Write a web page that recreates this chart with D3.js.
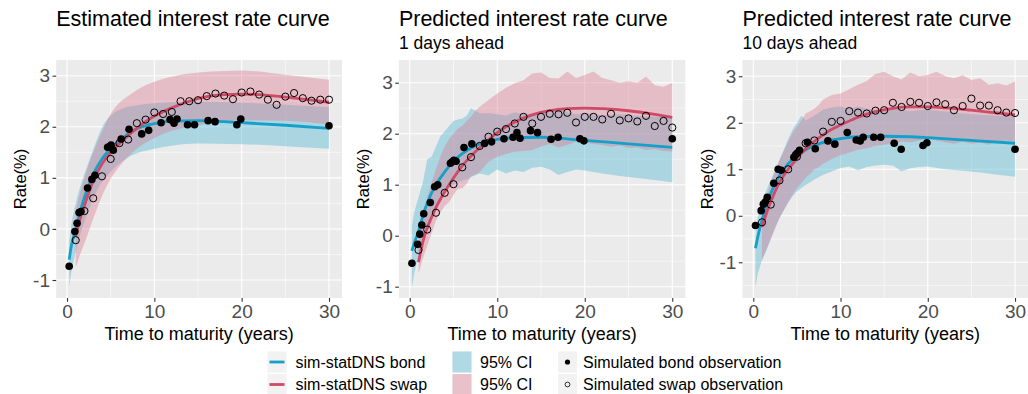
<!DOCTYPE html>
<html>
<head>
<meta charset="utf-8">
<script src="https://cdn.jsdelivr.net/npm/d3@7"></script>
<style>
  html, body { margin: 0; padding: 0; background: #ffffff; }
  svg { display: block; font-family: "Liberation Sans", Arial, sans-serif; }
</style>
</head>
<body>
<svg id="chart" width="1028" height="394"></svg>
<script>
// ---------- data ----------
const xTicks = [0, 10, 20, 30];
const yTicks = [-1, 0, 1, 2, 3];

// bond maturities (years) and swap maturities (years)
const bondMaturities = [0.25, 0.9, 1.15, 1.38, 1.6, 2.35, 2.85, 3.2, 4.65, 4.85, 5.05, 5.3, 6.2, 7.1, 8.55, 9.35, 10.77, 11.8, 12.25, 12.6, 13.8, 14.6, 16.15, 16.95, 19.45, 19.9, 30];
const swapMaturities = [1, 2, 3, 4, 5, 6, 7, 8, 9, 10, 11, 12, 13, 14, 15, 16, 17, 18, 19, 20, 21, 22, 23, 24, 25, 26, 27, 28, 29, 30];

// simulated observations (%)
const bondObsEst = [-0.73, -0.05, 0.11, 0.32, 0.34, 0.8, 0.97, 1.05, 1.6, 1.61, 1.64, 1.54, 1.76, 1.95, 1.86, 1.93, 2.08, 2.14, 2.07, 2.15, 2.04, 2.04, 2.12, 2.1, 2.04, 2.15, 2.02];
const bondObs1d = [-0.54, -0.17, 0.03, 0.21, 0.43, 0.65, 0.96, 1.0, 1.42, 1.45, 1.48, 1.46, 1.73, 1.8, 1.81, 1.84, 1.9, 1.93, 2.02, 1.91, 2.06, 2.02, 1.89, 1.93, 1.9, 1.86, 1.9];
const bondObs10d = [-0.21, 0.11, 0.25, 0.3, 0.4, 0.7, 1.0, 0.98, 1.26, 1.31, 1.35, 1.41, 1.58, 1.44, 1.61, 1.54, 1.79, 1.63, 1.61, 1.69, 1.69, 1.69, 1.56, 1.43, 1.51, 1.57, 1.43];

const swapObsEst = [-0.22, 0.35, 0.6, 1.03, 1.37, 1.68, 1.75, 2.07, 2.14, 2.28, 2.25, 2.29, 2.5, 2.5, 2.52, 2.6, 2.65, 2.61, 2.54, 2.67, 2.69, 2.63, 2.53, 2.43, 2.59, 2.66, 2.56, 2.51, 2.53, 2.53];
const swapObs1d = [-0.28, 0.12, 0.45, 0.84, 1.01, 1.34, 1.54, 1.76, 1.94, 2.04, 2.09, 2.2, 2.33, 2.2, 2.33, 2.39, 2.38, 2.41, 2.22, 2.33, 2.33, 2.28, 2.39, 2.26, 2.3, 2.24, 2.35, 2.15, 2.25, 2.12];
const swapObs10d = [-0.14, 0.24, 0.76, 1.0, 1.27, 1.56, 1.62, 1.81, 2.02, 2.04, 2.25, 2.22, 2.2, 2.26, 2.27, 2.43, 2.34, 2.45, 2.43, 2.36, 2.44, 2.4, 2.27, 2.36, 2.52, 2.37, 2.37, 2.27, 2.22, 2.21];

// fitted sim-statDNS curves
const fitGridBond = [0.25, 0.5, 1, 1.5, 2, 3, 4, 5, 6, 7, 8, 9, 10, 12, 15, 18, 20, 25, 30];
const fitGridSwap = [1, 1.5, 2, 3, 4, 5, 6, 7, 8, 9, 10, 12, 14, 16, 18, 20, 22, 25, 28, 30];
const bondFitEst = [-0.6, -0.33, -0.02, 0.33, 0.62, 1.07, 1.37, 1.57, 1.72, 1.86, 1.96, 2.02, 2.06, 2.11, 2.12, 2.1, 2.08, 2.03, 1.97];
const bondFit1d = [-0.3, -0.15, 0.08, 0.39, 0.64, 1.0, 1.25, 1.46, 1.61, 1.72, 1.8, 1.85, 1.89, 1.92, 1.93, 1.9, 1.87, 1.8, 1.73];
const bondFit10d = [-0.7, -0.47, -0.09, 0.23, 0.48, 0.86, 1.12, 1.29, 1.42, 1.51, 1.58, 1.63, 1.66, 1.7, 1.71, 1.7, 1.68, 1.62, 1.56];
const swapFitEst = [-0.15, 0.2, 0.46, 0.94, 1.27, 1.5, 1.67, 1.83, 1.97, 2.1, 2.21, 2.37, 2.5, 2.59, 2.63, 2.64, 2.63, 2.58, 2.52, 2.48];
const swapFit1d = [-0.52, -0.12, 0.15, 0.55, 0.86, 1.13, 1.37, 1.56, 1.73, 1.88, 2.02, 2.23, 2.37, 2.45, 2.49, 2.5, 2.49, 2.45, 2.38, 2.32];
const swapFit10d = [-0.24, 0.05, 0.3, 0.72, 1.0, 1.23, 1.44, 1.6, 1.74, 1.86, 1.95, 2.12, 2.24, 2.31, 2.34, 2.34, 2.32, 2.27, 2.21, 2.17];

// 95% CI bands, estimated curve
const ciGridBondEst = [0.25, 0.5, 1, 1.5, 2, 3, 4, 5, 6, 7, 8, 10, 12, 15, 20, 25, 30];
const ciGridSwapEst = [1, 1.5, 2, 3, 4, 5, 6, 7, 8, 10, 12, 15, 18, 20, 25, 30];
const bondLoEst = [-1.13, -0.85, -0.45, -0.12, 0.15, 0.6, 0.92, 1.12, 1.28, 1.4, 1.48, 1.57, 1.63, 1.67, 1.66, 1.62, 1.57];
const bondHiEst = [-0.25, 0.08, 0.5, 0.82, 1.08, 1.55, 1.98, 2.22, 2.33, 2.39, 2.42, 2.46, 2.48, 2.49, 2.47, 2.43, 2.38];
const swapLoEst = [-0.75, -0.5, -0.28, 0.2, 0.64, 0.98, 1.22, 1.42, 1.57, 1.78, 1.92, 2.03, 2.1, 2.13, 2.12, 2.05];
const swapHiEst = [0.35, 0.7, 1.0, 1.5, 1.9, 2.25, 2.47, 2.6, 2.72, 2.88, 2.98, 3.06, 3.09, 3.1, 3.02, 2.92];

// 95% CI bands, predicted curves (simulation based)
const ciGridBond = [0.25, 0.5, 1, 1.5, 2, 2.5, 3, 3.5, 4, 4.5, 5, 5.5, 6, 6.5, 7, 8, 9, 10, 11, 12, 13, 14, 15, 16, 17, 18, 19, 20, 22, 24, 26, 28, 30];
const ciGridSwap = [1, 1.5, 2, 2.5, 3, 3.5, 4, 4.5, 5, 5.5, 6, 6.5, 7, 7.5, 8, 9, 10, 11, 12, 13, 14, 15, 16, 17, 18, 19, 20, 21, 22, 23, 24, 25, 26, 27, 28, 29, 30];
const bondLo1d = [-1.02, -0.75, -0.4, -0.1, 0.15, 0.35, 0.55, 0.7, 0.85, 0.95, 1.0, 1.05, 1.08, 1.1, 1.15, 1.22, 1.18, 1.3, 1.22, 1.28, 1.25, 1.33, 1.35, 1.3, 1.19, 1.25, 1.3, 1.28, 1.22, 1.17, 1.13, 1.09, 1.05];
const bondHi1d = [0.2, 0.45, 0.75, 1.05, 1.5, 1.55, 1.75, 1.95, 2.05, 2.15, 2.25, 2.28, 2.3, 2.35, 2.5, 2.4, 2.4, 2.38, 2.35, 2.42, 2.38, 2.4, 2.45, 2.4, 2.52, 2.42, 2.38, 2.4, 2.36, 2.38, 2.35, 2.33, 2.33];
const swapLo1d = [-0.74, -0.45, -0.2, 0.05, 0.3, 0.45, 0.58, 0.66, 0.8, 0.92, 0.93, 1.02, 1.16, 1.2, 1.25, 1.45, 1.55, 1.6, 1.65, 1.66, 1.68, 1.75, 1.8, 1.73, 1.78, 1.84, 1.82, 1.8, 1.78, 1.75, 1.77, 1.72, 1.73, 1.68, 1.7, 1.66, 1.65];
const swapHi1d = [-0.05, 0.35, 0.75, 1.05, 1.3, 1.55, 1.75, 1.9, 2.0, 2.1, 2.15, 2.25, 2.33, 2.45, 2.53, 2.66, 2.79, 2.9, 2.99, 3.05, 3.18, 3.2, 3.09, 3.08, 3.22, 3.09, 3.15, 3.22, 3.09, 3.05, 3.0, 3.03, 3.0, 3.12, 2.95, 2.92, 3.0];
const bondLo10d = [-1.55, -1.25, -0.95, -0.75, -0.5, -0.25, -0.05, 0.12, 0.28, 0.42, 0.52, 0.6, 0.66, 0.72, 0.78, 0.88, 0.95, 1.03, 1.06, 0.98, 1.05, 1.08, 1.1, 1.08, 0.95, 1.02, 1.05, 1.06, 1.0, 0.97, 0.93, 0.88, 0.84];
const bondHi10d = [-0.45, -0.05, 0.3, 0.55, 0.78, 0.98, 1.2, 1.42, 1.65, 1.85, 2.0, 2.15, 2.05, 2.1, 2.15, 2.28, 2.33, 2.35, 2.3, 2.35, 2.3, 2.28, 2.24, 2.3, 2.28, 2.25, 2.27, 2.28, 2.24, 2.2, 2.17, 2.15, 2.13];
const swapLo10d = [-0.95, -0.72, -0.5, -0.28, -0.05, 0.12, 0.3, 0.45, 0.6, 0.7, 0.82, 0.9, 1.0, 1.05, 1.12, 1.22, 1.3, 1.36, 1.42, 1.45, 1.5, 1.53, 1.56, 1.6, 1.58, 1.62, 1.66, 1.62, 1.58, 1.55, 1.6, 1.55, 1.58, 1.53, 1.6, 1.62, 1.6];
const swapHi10d = [0.1, 0.4, 0.7, 0.95, 1.2, 1.4, 1.6, 1.78, 1.92, 2.05, 2.2, 2.25, 2.3, 2.38, 2.5, 2.6, 2.63, 2.72, 2.82, 2.9, 3.05, 3.1, 3.0, 2.93, 3.08, 3.0, 3.03, 3.1, 3.0, 2.96, 3.02, 2.92, 2.96, 2.82, 2.85, 2.8, 2.89];

const panelTitles = ["Estimated interest rate curve", "Predicted interest rate curve", "Predicted interest rate curve"];
const panelSubtitles = [null, "1 days ahead", "10 days ahead"];
const legendLines = ["sim-statDNS bond", "sim-statDNS swap"];
const legendBands = ["95% CI", "95% CI"];
const legendPoints = ["Simulated bond observation", "Simulated swap observation"];

// ---------- styling ----------
const COL_BOND = "#14A0C8";
const COL_SWAP = "#CF4A66";
const FILL_BOND = "#5BBAD5", OP_BOND = 0.45;
const FILL_SWAP = "#D9788F", OP_SWAP = 0.4;
const PANEL_BG = "#EBEBEB";

const svg = d3.select("#chart");
const zip = (t, v) => t.map((d, i) => ({ t: d, v: v[i] }));
const zipBand = (t, lo, hi) => t.map((d, i) => ({ t: d, lo: lo[i], hi: hi[i] }));

const panels = [
  { x0: 56.2, x1: 342, yDom: [-1.352, 3.307], smooth: true,
    bondObs: bondObsEst, swapObs: swapObsEst, bondFit: bondFitEst, swapFit: swapFitEst,
    bondBand: zipBand(ciGridBondEst, bondLoEst, bondHiEst), swapBand: zipBand(ciGridSwapEst, swapLoEst, swapHiEst) },
  { x0: 398.9, x1: 685.3, yDom: [-1.222, 3.445], smooth: false,
    bondObs: bondObs1d, swapObs: swapObs1d, bondFit: bondFit1d, swapFit: swapFit1d,
    bondBand: zipBand(ciGridBond, bondLo1d, bondHi1d), swapBand: zipBand(ciGridSwap, swapLo1d, swapHi1d) },
  { x0: 742.5, x1: 1028, yDom: [-1.768, 3.35], smooth: false,
    bondObs: bondObs10d, swapObs: swapObs10d, bondFit: bondFit10d, swapFit: swapFit10d,
    bondBand: zipBand(ciGridBond, bondLo10d, bondHi10d), swapBand: zipBand(ciGridSwap, swapLo10d, swapHi10d) }
];

const TOP = 60, BOTTOM = 298;
const xDom = [-1.2375, 31.4875];

panels.forEach((p, i) => {
  const x = d3.scaleLinear().domain(xDom).range([p.x0, p.x1]);
  const y = d3.scaleLinear().domain(p.yDom).range([BOTTOM, TOP]);
  const g = svg.append("g");

  g.append("rect").attr("x", p.x0).attr("y", TOP)
    .attr("width", p.x1 - p.x0).attr("height", BOTTOM - TOP).attr("fill", PANEL_BG);

  const clipId = "clip" + i;
  svg.append("clipPath").attr("id", clipId).append("rect")
    .attr("x", p.x0).attr("y", TOP).attr("width", p.x1 - p.x0).attr("height", BOTTOM - TOP);

  // grid
  const yMinor = [-1.5, -0.5, 0.5, 1.5, 2.5, 3.5].filter(v => v > p.yDom[0] && v < p.yDom[1]);
  const xMinor = [5, 15, 25];
  g.selectAll(".ygm").data(yMinor).join("line")
    .attr("x1", p.x0).attr("x2", p.x1).attr("y1", d => y(d)).attr("y2", d => y(d))
    .attr("stroke", "#fff").attr("stroke-width", 0.55);
  g.selectAll(".xgm").data(xMinor).join("line")
    .attr("y1", TOP).attr("y2", BOTTOM).attr("x1", d => x(d)).attr("x2", d => x(d))
    .attr("stroke", "#fff").attr("stroke-width", 0.55);
  g.selectAll(".ygM").data(yTicks).join("line")
    .attr("x1", p.x0).attr("x2", p.x1).attr("y1", d => y(d)).attr("y2", d => y(d))
    .attr("stroke", "#fff").attr("stroke-width", 1.1);
  g.selectAll(".xgM").data(xTicks).join("line")
    .attr("y1", TOP).attr("y2", BOTTOM).attr("x1", d => x(d)).attr("x2", d => x(d))
    .attr("stroke", "#fff").attr("stroke-width", 1.1);

  const plot = g.append("g").attr("clip-path", `url(#${clipId})`);
  const bandCurve = p.smooth ? d3.curveMonotoneX : d3.curveLinear;
  const area = d3.area().x(d => x(d.t)).y0(d => y(d.lo)).y1(d => y(d.hi)).curve(bandCurve);
  plot.append("path").datum(p.bondBand).attr("d", area).attr("fill", FILL_BOND).attr("fill-opacity", OP_BOND);
  plot.append("path").datum(p.swapBand).attr("d", area).attr("fill", FILL_SWAP).attr("fill-opacity", OP_SWAP);

  const line = d3.line().x(d => x(d.t)).y(d => y(d.v)).curve(d3.curveMonotoneX);
  plot.append("path").datum(zip(fitGridBond, p.bondFit)).attr("d", line)
    .attr("fill", "none").attr("stroke", COL_BOND).attr("stroke-width", 2.8);
  plot.append("path").datum(zip(fitGridSwap, p.swapFit)).attr("d", line)
    .attr("fill", "none").attr("stroke", COL_SWAP).attr("stroke-width", 2.8);

  plot.selectAll(".swapPt").data(zip(swapMaturities, p.swapObs)).join("circle")
    .attr("cx", d => x(d.t)).attr("cy", d => y(d.v)).attr("r", 3.6)
    .attr("fill", "none").attr("stroke", "#000").attr("stroke-width", 1);
  plot.selectAll(".bondPt").data(zip(bondMaturities, p.bondObs)).join("circle")
    .attr("cx", d => x(d.t)).attr("cy", d => y(d.v)).attr("r", 3.8).attr("fill", "#000");

  // axes
  const xAxis = g.append("g").attr("transform", `translate(0,${BOTTOM})`)
    .call(d3.axisBottom(x).tickValues(xTicks).tickFormat(d => String(d)).tickSize(3.7).tickPadding(3));
  const yAxis = g.append("g").attr("transform", `translate(${p.x0},0)`)
    .call(d3.axisLeft(y).tickValues(yTicks).tickFormat(d => String(d)).tickSize(3.7).tickPadding(2.5));
  [xAxis, yAxis].forEach(a => {
    a.select(".domain").remove();
    a.selectAll(".tick line").attr("stroke", "#333").attr("stroke-width", 1.1);
    a.selectAll(".tick text").attr("fill", "#4D4D4D").style("font-size", "19px")
      .style("font-family", "'Liberation Sans', Arial, sans-serif");
  });

  // titles
  g.append("text").attr("x", p.x0).attr("y", 26).text(panelTitles[i])
    .style("font-size", "21.5px").attr("fill", "#000");
  if (panelSubtitles[i]) {
    g.append("text").attr("x", p.x0).attr("y", 49).text(panelSubtitles[i])
      .style("font-size", "17.5px").attr("fill", "#000");
  }
  g.append("text").attr("x", (p.x0 + p.x1) / 2).attr("y", 340).attr("text-anchor", "middle")
    .text("Time to maturity (years)").style("font-size", "18px").attr("fill", "#000");
  g.append("text").attr("transform", `translate(${p.x0 - 30},${(TOP + BOTTOM) / 2}) rotate(-90)`)
    .attr("text-anchor", "middle").text("Rate(%)").style("font-size", "16.5px").attr("fill", "#000");
});

// ---------- legend ----------
const leg = svg.append("g");
const rowY = [362, 384.5];
const keyW = 19, keyH = 21;

// curve keys
rowY.forEach((cy, k) => {
  leg.append("rect").attr("x", 267.5).attr("y", cy - keyH / 2).attr("width", keyW).attr("height", keyH).attr("fill", "#F2F2F2");
  leg.append("line").attr("x1", 269.5).attr("x2", 284.5).attr("y1", cy).attr("y2", cy)
    .attr("stroke", k === 0 ? COL_BOND : COL_SWAP).attr("stroke-width", 2.8);
  leg.append("text").attr("x", 295.5).attr("y", cy).attr("dy", "0.35em").text(legendLines[k]).style("font-size", "16px");
});
// band keys
rowY.forEach((cy, k) => {
  leg.append("rect").attr("x", 452.5).attr("y", cy - keyH / 2).attr("width", keyW).attr("height", keyH).attr("fill", "#F2F2F2");
  leg.append("rect").attr("x", 452.5).attr("y", cy - keyH / 2).attr("width", keyW).attr("height", keyH)
    .attr("fill", k === 0 ? FILL_BOND : FILL_SWAP).attr("fill-opacity", k === 0 ? OP_BOND : OP_SWAP);
  leg.append("text").attr("x", 480).attr("y", cy).attr("dy", "0.35em").text(legendBands[k]).style("font-size", "16px");
});
// point keys
rowY.forEach((cy, k) => {
  leg.append("rect").attr("x", 558).attr("y", cy - keyH / 2).attr("width", keyW).attr("height", keyH).attr("fill", "#F2F2F2");
  if (k === 0) {
    leg.append("circle").attr("cx", 567.5).attr("cy", cy).attr("r", 2.6).attr("fill", "#000");
  } else {
    leg.append("circle").attr("cx", 567.5).attr("cy", cy).attr("r", 2.4).attr("fill", "none").attr("stroke", "#000").attr("stroke-width", 0.8);
  }
  leg.append("text").attr("x", 583).attr("y", cy).attr("dy", "0.35em").text(legendPoints[k]).style("font-size", "16px");
});
</script>
</body>
</html>
